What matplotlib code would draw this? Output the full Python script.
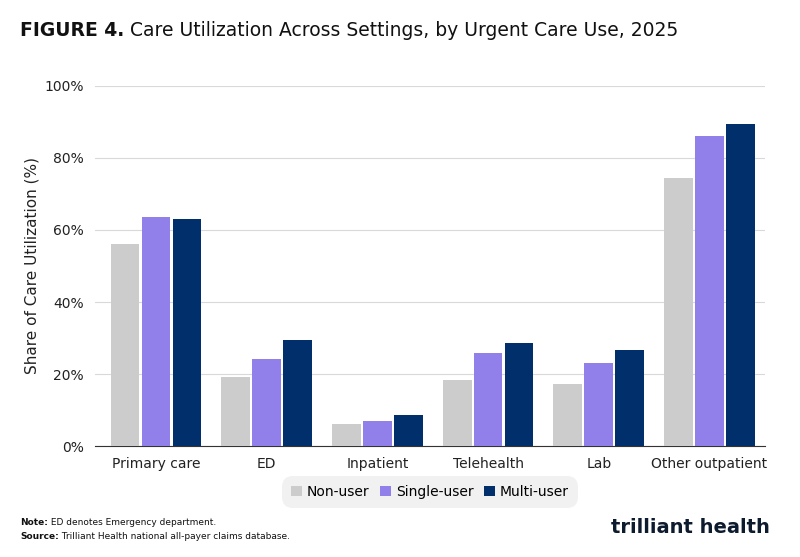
import numpy as np
import matplotlib.pyplot as plt

categories = ['Primary care', 'ED', 'Inpatient', 'Telehealth', 'Lab', 'Other outpatient']
non_user = [56.0, 19.1, 6.2, 18.3, 17.3, 74.5]
single_user = [63.5, 24.2, 7.1, 25.8, 23.0, 86.0]
multi_user = [63.0, 29.5, 8.6, 28.5, 26.8, 89.3]
series = [('Non-user', non_user, '#cccccc'),
          ('Single-user', single_user, '#9180ea'),
          ('Multi-user', multi_user, '#002f6c')]

plt.rcParams['font.family'] = ['DejaVu Sans']
fig = plt.figure(figsize=(8, 5.57), dpi=100)
ax = fig.add_axes([0.119, 0.199, 0.837, 0.647])

x = np.arange(len(categories))
w = 0.26
for i, (name, vals, col) in enumerate(series):
    ax.bar(x + (i - 1) * (w + 0.02), vals, width=w, color=col, label=name, zorder=3)

ax.set_ylim(0, 100)
ax.set_xlim(-0.55, 5.5)
ax.set_yticks(range(0, 101, 20))
ax.set_yticklabels([f'{v}%' for v in range(0, 101, 20)], fontsize=10, color='#222222')
ax.set_xticks(x)
ax.set_xticklabels(categories, fontsize=10, color='#222222')
ax.tick_params(length=0, pad=8)
ax.grid(axis='y', color='#d9d9d9', lw=0.8, zorder=0)
for s in ['top', 'right', 'left']:
    ax.spines[s].set_visible(False)
ax.spines['bottom'].set_color('#333333')
ax.set_ylabel('Share of Care Utilization (%)', fontsize=11, color='#222222')

leg = ax.legend(loc='upper center', bbox_to_anchor=(0.5, -0.075), ncol=3, frameon=True,
                fontsize=10, handlelength=0.8, handleheight=0.8, handletextpad=0.3,
                columnspacing=0.8, borderpad=0.35)
leg.get_frame().set_facecolor('#eeeeee')
leg.get_frame().set_edgecolor('none')
leg.get_frame().set_boxstyle('round,pad=0.3,rounding_size=0.8')

t1 = fig.text(0.025, 0.935, 'FIGURE 4.', fontsize=13.5, fontweight='bold', color='#111111')
ax.annotate(' Care Utilization Across Settings, by Urgent Care Use, 2025', xy=(1, 0),
            xycoords=t1, va='bottom', fontsize=13.5, color='#111111', annotation_clip=False)
n1 = fig.text(0.025, 0.058, 'Note:', fontsize=6.5, fontweight='bold', color='#111111')
ax.annotate(' ED denotes Emergency department.', xy=(1, 0), xycoords=n1, va='bottom',
            fontsize=6.5, color='#111111', annotation_clip=False)
s1 = fig.text(0.025, 0.033, 'Source:', fontsize=6.5, fontweight='bold', color='#111111')
ax.annotate(' Trilliant Health national all-payer claims database.', xy=(1, 0), xycoords=s1,
            va='bottom', fontsize=6.5, color='#111111', annotation_clip=False)
fig.text(0.962, 0.043, 'trilliant health', fontsize=14, fontweight='bold', color='#0d1b2e',
         ha='right')

fig.savefig('out.png', dpi=100)
